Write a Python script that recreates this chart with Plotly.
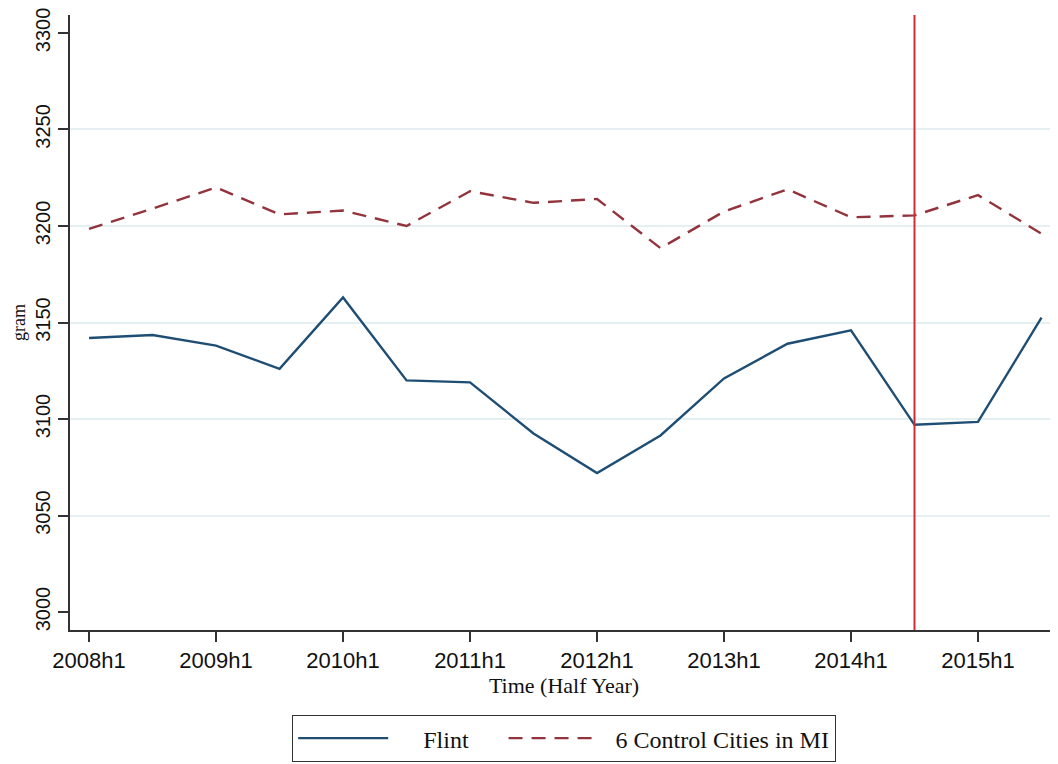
import plotly.graph_objects as go

# half-year periods, 2008h1 .. 2015h2
periods = [
    "2008h1", "2008h2", "2009h1", "2009h2", "2010h1", "2010h2", "2011h1", "2011h2",
    "2012h1", "2012h2", "2013h1", "2013h2", "2014h1", "2014h2", "2015h1", "2015h2",
]
flint = [3142, 3143.5, 3138, 3126, 3163, 3120, 3119, 3092.5,
         3072, 3091.5, 3121, 3139, 3146, 3097, 3098.5, 3152.5]
control = [3198.5, 3209, 3220, 3206, 3208, 3200, 3218, 3212,
           3214, 3188.5, 3207.5, 3219, 3204.5, 3205.5, 3216, 3196]
y_ticks = [3000, 3050, 3100, 3150, 3200, 3250, 3300]
grid_vals = [3050, 3100, 3150, 3200, 3250]
policy_period = "2014h2"

sans = "Liberation Sans, Arial, sans-serif"
serif = "Liberation Serif, Times New Roman, serif"
nb = "\u00a0"

x = list(range(len(periods)))
tick_idx = [i for i, p in enumerate(periods) if p.endswith("h1")]

fig = go.Figure()
fig.add_trace(go.Scatter(
    x=x, y=flint, mode="lines", name=nb * 5 + "Flint" + nb * 5,
    line=dict(color="#1f4e74", width=2.4),
))
fig.add_trace(go.Scatter(
    x=x, y=control, mode="lines", name=nb * 2 + "6 Control Cities in MI",
    line=dict(color="#93343c", width=2.4, dash="14px,9px"),
))
# invisible trace on an overlay axis to get gridlines only at inner ticks
fig.add_trace(go.Scatter(x=[x[0]], y=[grid_vals[0]], yaxis="y2",
                         mode="markers", marker=dict(opacity=0),
                         showlegend=False, hoverinfo="skip"))

fig.add_vline(x=periods.index(policy_period), line_color="#d22b36", line_width=2)

# page body has an 8px margin, so the figure is 8px smaller on each side
yr = [2990.7, 3309.3]
fig.update_layout(
    width=1050, height=756,
    margin=dict(l=62, r=0, t=7, b=134),
    paper_bgcolor="white", plot_bgcolor="white",
    showlegend=True,
    legend=dict(
        orientation="h", x=0.5, xanchor="center", y=-0.138, yanchor="top",
        bordercolor="#333333", borderwidth=1.2,
        font=dict(family=serif, size=24, color="#111111"),
        itemwidth=90, tracegroupgap=0,
    ),
    xaxis=dict(
        range=[-0.3, 15.26], showgrid=False, zeroline=False, automargin=False,
        showline=True, linecolor="#333333", linewidth=1.5,
        ticks="outside", ticklen=10, tickwidth=1.5, tickcolor="#333333",
        tickvals=tick_idx, ticktext=[periods[i] for i in tick_idx],
        tickfont=dict(family=sans, size=22, color="#111111"),
        title=dict(text="Time (Half Year)", standoff=0,
                   font=dict(family=serif, size=22, color="#111111")),
    ),
    yaxis=dict(
        range=yr, showgrid=False, zeroline=False, automargin=False,
        showline=True, linecolor="#333333", linewidth=1.5,
        ticks="outside", ticklen=10, tickwidth=1.5, tickcolor="#333333",
        tickvals=y_ticks, tickangle=-90, ticklabeloverflow="allow",
        tickfont=dict(family=sans, size=20, color="#111111"),
        title=dict(text="gram", standoff=2,
                   font=dict(family=serif, size=18, color="#111111")),
    ),
    yaxis2=dict(
        range=yr, overlaying="y", showgrid=True, gridcolor="#e6f0f2",
        gridwidth=1.5, tickvals=grid_vals, showticklabels=False,
        zeroline=False, showline=False, automargin=False,
    ),
)

fig.write_html("out.html")
